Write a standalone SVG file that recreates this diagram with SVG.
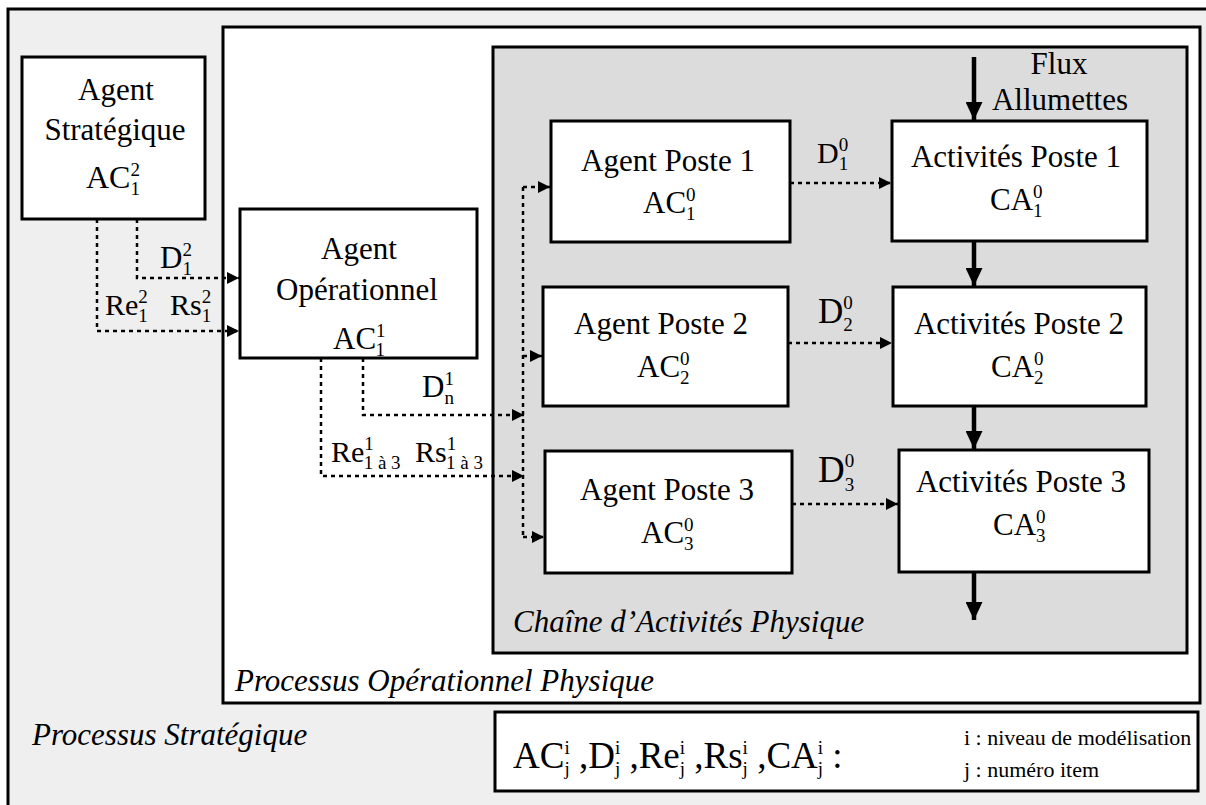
<svg xmlns="http://www.w3.org/2000/svg" width="1206" height="805" viewBox="0 0 1206 805">
<style>
.t{font-family:"Liberation Serif","Times New Roman",serif;font-size:31px;fill:#000}
.s{font-size:19px}
.it{font-style:italic}
.box{fill:#fff;stroke:#000;stroke-width:3}
.frame{stroke:#000;stroke-width:3}
.dot{fill:none;stroke:#000;stroke-width:2.5;stroke-dasharray:4 4;marker-end:url(#ah)}
.flow{fill:none;stroke:#000;stroke-width:4.5;marker-end:url(#fh)}
</style>
<defs>
<marker id="ah" markerUnits="userSpaceOnUse" markerWidth="12" markerHeight="12" refX="12" refY="6" orient="auto"><path d="M0,0 L12,6 L0,12 z" fill="#000"/></marker>
<marker id="fh" markerUnits="userSpaceOnUse" markerWidth="18" markerHeight="17" refX="18" refY="8.5" orient="auto"><path d="M0,0 L18,8.5 L0,17 z" fill="#000"/></marker>
</defs>

<g id="processus-strategique">
<rect class="frame" x="8" y="9" width="1205" height="805" fill="#efefef"/>
<text class="t it" x="32" y="745">Processus Stratégique</text>
</g>
<g id="processus-operationnel">
<rect class="frame" x="223" y="27" width="977" height="676" fill="#fff"/>
<text class="t it" x="235" y="691">Processus Opérationnel Physique</text>
</g>
<g id="chaine-activites">
<rect class="frame" x="493" y="47" width="694" height="606" fill="#dcdcdc"/>
<text class="t it" x="513" y="632">Chaîne d’Activités Physique</text>
</g>

<g id="agent-strategique">
<rect class="box" x="22" y="57" width="183" height="162"/>
<text class="t" x="116" y="100" text-anchor="middle">Agent</text>
<text class="t" x="115" y="140" text-anchor="middle">Stratégique</text>
<text class="t" x="86" y="188" style="font-size:32px">AC<tspan class="s" dy="-12">2</tspan><tspan class="s" dx="-9.5" dy="19">1</tspan></text>
</g>
<g id="agent-operationnel">
<rect class="box" x="240" y="209" width="237" height="149"/>
<text class="t" x="359" y="259" text-anchor="middle">Agent</text>
<text class="t" x="357" y="300" text-anchor="middle">Opérationnel</text>
<text class="t" x="333" y="349">AC<tspan class="s" dy="-12">1</tspan><tspan class="s" dx="-9.5" dy="19">1</tspan></text>
</g>
<g id="agent-poste-1">
<rect class="box" x="551" y="121" width="239" height="121"/>
<text class="t" x="668" y="171" text-anchor="middle">Agent Poste 1</text>
<text class="t" x="643" y="213">AC<tspan class="s" dy="-12">0</tspan><tspan class="s" dx="-9.5" dy="19">1</tspan></text>
</g>
<g id="agent-poste-2">
<rect class="box" x="543" y="287" width="245" height="119"/>
<text class="t" x="661" y="334" text-anchor="middle">Agent Poste 2</text>
<text class="t" x="637" y="377">AC<tspan class="s" dy="-12">0</tspan><tspan class="s" dx="-9.5" dy="19">2</tspan></text>
</g>
<g id="agent-poste-3">
<rect class="box" x="545" y="451" width="247" height="122"/>
<text class="t" x="667" y="500" text-anchor="middle">Agent Poste 3</text>
<text class="t" x="641" y="543">AC<tspan class="s" dy="-12">0</tspan><tspan class="s" dx="-9.5" dy="19">3</tspan></text>
</g>
<g id="activites-poste-1">
<rect class="box" x="892" y="121" width="255" height="120"/>
<text class="t" x="1016" y="167" text-anchor="middle">Activités Poste 1</text>
<text class="t" x="990" y="210">CA<tspan class="s" dy="-12">0</tspan><tspan class="s" dx="-9.5" dy="19">1</tspan></text>
</g>
<g id="activites-poste-2">
<rect class="box" x="893" y="287" width="253" height="119"/>
<text class="t" x="1019" y="334" text-anchor="middle">Activités Poste 2</text>
<text class="t" x="991" y="377">CA<tspan class="s" dy="-12">0</tspan><tspan class="s" dx="-9.5" dy="19">2</tspan></text>
</g>
<g id="activites-poste-3">
<rect class="box" x="899" y="450" width="250" height="122"/>
<text class="t" x="1021" y="492" text-anchor="middle">Activités Poste 3</text>
<text class="t" x="993" y="535">CA<tspan class="s" dy="-12">0</tspan><tspan class="s" dx="-9.5" dy="19">3</tspan></text>
</g>

<g id="connectors">
<path class="dot" d="M137,219 V278 H239"/>
<path class="dot" d="M97,219 V331 H239"/>
<path class="dot" d="M363,358 V415 H524"/>
<path class="dot" d="M321,358 V476 H524"/>
<path d="M523,187 V537" fill="none" stroke="#000" stroke-width="2.5" stroke-dasharray="4 4"/>
<path class="dot" d="M523,187 H550"/>
<path class="dot" d="M523,356 H542"/>
<path class="dot" d="M523,537 H544"/>
<path class="dot" d="M790,183 H891"/>
<path class="dot" d="M788,343 H892"/>
<path class="dot" d="M792,504 H898"/>
<path class="flow" d="M974,57 V120"/>
<path class="flow" d="M974,242 V286"/>
<path class="flow" d="M974,407 V449"/>
<path class="flow" d="M974,573 V620"/>
</g>

<g id="connector-labels">
<text class="t" x="160" y="268">D<tspan class="s" dy="-12">2</tspan><tspan class="s" dx="-9.5" dy="19">1</tspan></text>
<text class="t" x="105" y="315" style="font-size:30px">Re<tspan class="s" dy="-12">2</tspan><tspan class="s" dx="-9.5" dy="19">1</tspan></text>
<text class="t" x="170" y="315" style="font-size:30px">Rs<tspan class="s" dy="-12">2</tspan><tspan class="s" dx="-9.5" dy="19">1</tspan></text>
<text class="t" x="422" y="397">D<tspan class="s" dy="-12">1</tspan><tspan class="s" dx="-9.5" dy="19">n</tspan></text>
<text class="t" x="331" y="462" style="font-size:30px">Re<tspan class="s" dy="-12">1</tspan><tspan class="s" dx="-9.5" dy="19">1 à 3</tspan></text>
<text class="t" x="415" y="462" style="font-size:30px">Rs<tspan class="s" dy="-12">1</tspan><tspan class="s" dx="-9.5" dy="19">1 à 3</tspan></text>
<text class="t" x="817" y="163" style="font-size:30px">D<tspan class="s" dy="-12">0</tspan><tspan class="s" dx="-9.5" dy="19">1</tspan></text>
<text class="t" x="818" y="323" style="font-size:35px">D<tspan class="s" dy="-14">0</tspan><tspan class="s" dx="-9.5" dy="22">2</tspan></text>
<text class="t" x="818" y="482" style="font-size:37px">D<tspan class="s" dy="-15">0</tspan><tspan class="s" dx="-9.5" dy="24">3</tspan></text>
<text class="t" x="1059" y="74" text-anchor="middle">Flux</text>
<text class="t" x="1060" y="110" text-anchor="middle">Allumettes</text>
</g>

<g id="legende">
<rect class="box" x="495" y="712" width="703" height="79"/>
<text class="t" x="513" y="768" style="font-size:37px">AC<tspan class="s" dy="-14">i</tspan><tspan class="s" dx="-5.3" dy="21">j</tspan><tspan dy="-7"> ,D</tspan><tspan class="s" dy="-14">i</tspan><tspan class="s" dx="-5.3" dy="21">j</tspan><tspan dy="-7"> ,Re</tspan><tspan class="s" dy="-14">i</tspan><tspan class="s" dx="-5.3" dy="21">j</tspan><tspan dy="-7"> ,Rs</tspan><tspan class="s" dy="-14">i</tspan><tspan class="s" dx="-5.3" dy="21">j</tspan><tspan dy="-7"> ,CA</tspan><tspan class="s" dy="-14">i</tspan><tspan class="s" dx="-5.3" dy="21">j</tspan><tspan dy="-7"> :</tspan></text>
<text class="t" x="964" y="745" style="font-size:22px">i : niveau de modélisation</text>
<text class="t" x="964" y="777" style="font-size:22px">j : numéro item</text>
</g>
</svg>
